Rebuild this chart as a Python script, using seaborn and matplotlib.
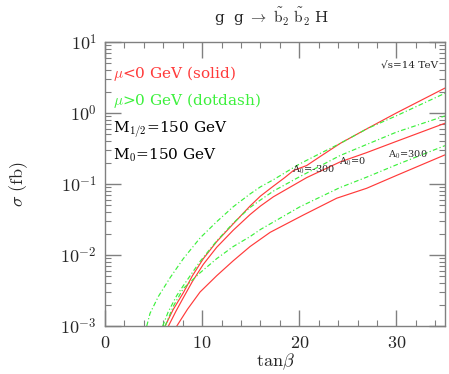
import numpy as np
import pandas as pd
import matplotlib
matplotlib.use("Agg")
import matplotlib.pyplot as plt
import seaborn as sns
from matplotlib.ticker import MultipleLocator, LogLocator, NullFormatter, FuncFormatter

# 数据：tanβ 与 log10(σ/fb)
tb_red_m300 = [6.18, 7.0, 8.06, 9.0, 10.12, 11.5, 13.2, 14.93, 16.0, 17.33, 18.5, 19.4, 20.76, 22.13, 24.19, 27.0, 30.0, 35.0]
lg_red_m300 = [-3.0, -2.77, -2.53, -2.29, -2.05, -1.81, -1.56, -1.31, -1.17, -1.03, -0.91, -0.81, -0.74, -0.615, -0.43, -0.22, 0.0, 0.35]

tb_red_0 = [6.52, 7.3, 8.06, 9.0, 10.12, 11.5, 13.2, 14.93, 16.0, 17.33, 20.76, 24.19, 26.9, 30.0, 35.0]
lg_red_0 = [-3.0, -2.79, -2.6, -2.37, -2.13, -1.89, -1.65, -1.43, -1.31, -1.18, -0.91, -0.69, -0.56, -0.40, -0.145]

tb_red_300 = [7.38, 8.5, 9.78, 11.5, 13.2, 14.93, 17.0, 20.41, 23.85, 26.94, 30.0, 35.0]
lg_red_300 = [-3.0, -2.76, -2.52, -2.29, -2.08, -1.88, -1.68, -1.437, -1.20, -1.06, -0.88, -0.59]

tb_grn_m300 = [4.29, 4.63, 5.5, 6.69, 8.06, 9.78, 11.5, 13.2, 14.93, 16.0, 17.33, 20.0, 22.0, 24.19, 27.0, 30.0, 35.0]
lg_grn_m300 = [-3.0, -2.82, -2.58, -2.32, -2.05, -1.76, -1.53, -1.32, -1.14, -1.04, -0.94, -0.72, -0.58, -0.43, -0.22, -0.04, 0.277]

tb_grn_0 = [5.93, 6.5, 7.38, 8.06, 9.78, 11.5, 13.2, 14.93, 16.0, 17.33, 20.0, 24.19, 27.0, 30.0, 35.0]
lg_grn_0 = [-3.0, -2.8, -2.57, -2.43, -2.09, -1.80, -1.55, -1.33, -1.225, -1.10, -0.90, -0.60, -0.44, -0.27, -0.042]

tb_grn_300 = [6.18, 7.03, 8.06, 9.78, 11.5, 13.2, 14.93, 16.0, 20.07, 24.19, 27.0, 30.0, 35.0]
lg_grn_300 = [-3.0, -2.72, -2.47, -2.25, -2.05, -1.88, -1.74, -1.64, -1.32, -1.05, -0.90, -0.73, -0.46]

# 标签
title = r'g  g $\rightarrow$ $\tilde{\rm b}_2$ $\tilde{\rm b}_2$ H'
notes = [r'$\mu$<0 GeV (solid)', r'$\mu$>0 GeV (dotdash)', r'M$_{1/2}$=150 GeV', r'M$_0$=150 GeV']
a0_labels = [r'A$_0$=-300', r'A$_0$=0', r'A$_0$=300']

red = '#ff3a3a'
green = '#3cf03c'

sns.set_style('ticks')
plt.rcParams['font.family'] = ['DejaVu Serif']
plt.rcParams['mathtext.fontset'] = 'cm'

fig = plt.figure(figsize=(4.49, 3.74), dpi=100)
ax = fig.add_axes([0.234, 0.128, 0.757, 0.760])

dd = (0, (4, 2, 1, 2))
curves = [
    (tb_red_m300, lg_red_m300, red, '-'),
    (tb_red_0, lg_red_0, red, '-'),
    (tb_red_300, lg_red_300, red, '-'),
    (tb_grn_m300, lg_grn_m300, green, dd),
    (tb_grn_0, lg_grn_0, green, dd),
    (tb_grn_300, lg_grn_300, green, dd),
]
for tb, lg, c, ls in curves:
    sns.lineplot(x=tb, y=10 ** np.array(lg), ax=ax, color=c, linestyle=ls, linewidth=0.85, sort=True)

ax.set_yscale('log')
ax.set_xlim(0, 35)
ax.set_ylim(1e-3, 1e1)

ax.xaxis.set_major_locator(MultipleLocator(10))
ax.xaxis.set_minor_locator(MultipleLocator(2))
ax.xaxis.set_major_formatter(FuncFormatter(lambda v, p: r'$%d$' % v))
ax.yaxis.set_major_locator(LogLocator(base=10, numticks=10))
ax.yaxis.set_minor_locator(LogLocator(base=10, subs=np.arange(2, 10), numticks=10))
ax.yaxis.set_major_formatter(FuncFormatter(lambda v, p: r'$10^{%d}$' % round(np.log10(v))))
ax.yaxis.set_minor_formatter(NullFormatter())
ax.tick_params(which='both', direction='in', top=True, right=True, color='#808080')
ax.tick_params(which='major', length=11.5, width=1, labelsize=13, pad=6)
ax.tick_params(which='minor', length=4.5, width=0.8)
for s in ax.spines.values():
    s.set_color('#808080')
    s.set_linewidth(1.0)

ax.set_xlabel(r'$\rm tan\beta$', fontsize=13, labelpad=-1)
ax.set_ylabel(r'$\sigma\ \rm (fb)$', fontsize=13, labelpad=22)
fig.text(0.605, 0.955, title, ha='center', va='center', fontsize=11)

for txt, yy, c in zip(notes, [0.89, 0.795, 0.69, 0.60], [red, green, 'black', 'black']):
    ax.text(0.024, yy, txt, transform=ax.transAxes, color=c, fontsize=11, va='center')
ax.text(0.98, 0.918, '√s=14 TeV', transform=ax.transAxes, ha='right',
        fontsize=7.5, va='center')

for txt, xx, yy in zip(a0_labels, [21.5, 25.5, 31.2], [-0.80, -0.69, -0.59]):
    ax.text(xx, 10 ** yy, txt, fontsize=7, ha='center', va='center')

fig.savefig('out.png', dpi=100)
